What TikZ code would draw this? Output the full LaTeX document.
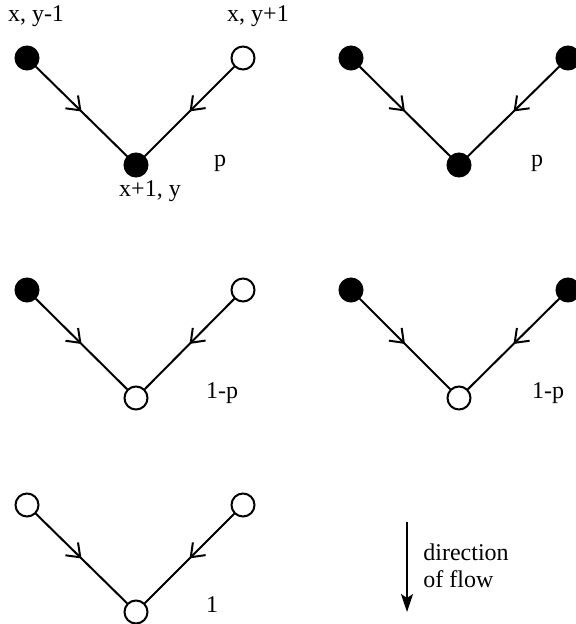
\documentclass[tikz,border=0pt]{standalone}
\usepackage{fontspec}
\setmainfont{Liberation Serif}
\usetikzlibrary{arrows.meta,decorations.markings}
\begin{document}
\begin{tikzpicture}[x=0.5pt,y=-0.5pt,
  site/.style={circle,draw,line width=1pt,inner sep=0pt,minimum size=11.5pt},
  full/.style={site,fill=black},
  empty/.style={site,fill=white},
  bond/.style={line width=1pt,postaction={decorate},
    decoration={markings,mark=at position 0.5 with {\arrow{Straight Barb[length=6pt,width=9pt,line width=1pt]}}}},
  lab/.style={font=\fontsize{12}{14}\selectfont,inner sep=0pt,anchor=base}]
\useasboundingbox (0,0) rectangle (575,624);
% row 1 left
\node[full]  (a1) at (27,58) {};
\node[empty] (a2) at (243,58) {};
\node[full]  (a3) at (136,165) {};
\draw[bond] (a1) -- (a3);
\draw[bond] (a2) -- (a3);
\node[lab] (ta1) at (36,22) {x, y-1};
\node[lab] (ta2) at (258,22) {x, y+1};
\node[lab] (ta3) at (150,197) {x+1, y};
\node[lab] (pa) at (220,167) {p};
% row 1 right
\node[full] (b1) at (351,58) {};
\node[full] (b2) at (568,58) {};
\node[full] (b3) at (459,165) {};
\draw[bond] (b1) -- (b3);
\draw[bond] (b2) -- (b3);
\node[lab] (pb) at (537,167) {p};
% row 2 left
\node[full]  (c1) at (27,290) {};
\node[empty] (c2) at (243,290) {};
\node[empty] (c3) at (136,398) {};
\draw[bond] (c1) -- (c3);
\draw[bond] (c2) -- (c3);
\node[lab] (pc) at (222,398) {1-p};
% row 2 right
\node[full]  (d1) at (351,290) {};
\node[full]  (d2) at (568,290) {};
\node[empty] (d3) at (459,398) {};
\draw[bond] (d1) -- (d3);
\draw[bond] (d2) -- (d3);
\node[lab] (pd) at (548,398) {1-p};
% row 3
\node[empty] (e1) at (27,505) {};
\node[empty] (e2) at (243,505) {};
\node[empty] (e3) at (136,612) {};
\draw[bond] (e1) -- (e3);
\draw[bond] (e2) -- (e3);
\node[lab] (pe) at (212,612) {1};
% direction of flow
\coordinate (f1) at (407,522);
\coordinate (f2) at (407,612);
\draw[line width=1pt,-{Stealth[length=9pt,width=6pt,inset=2pt]}] (f1) -- (f2);
\node[lab,anchor=base west] (fl1) at (423,560) {direction};
\node[lab,anchor=base west] (fl2) at (423,587) {of flow};
\end{tikzpicture}
\end{document}
